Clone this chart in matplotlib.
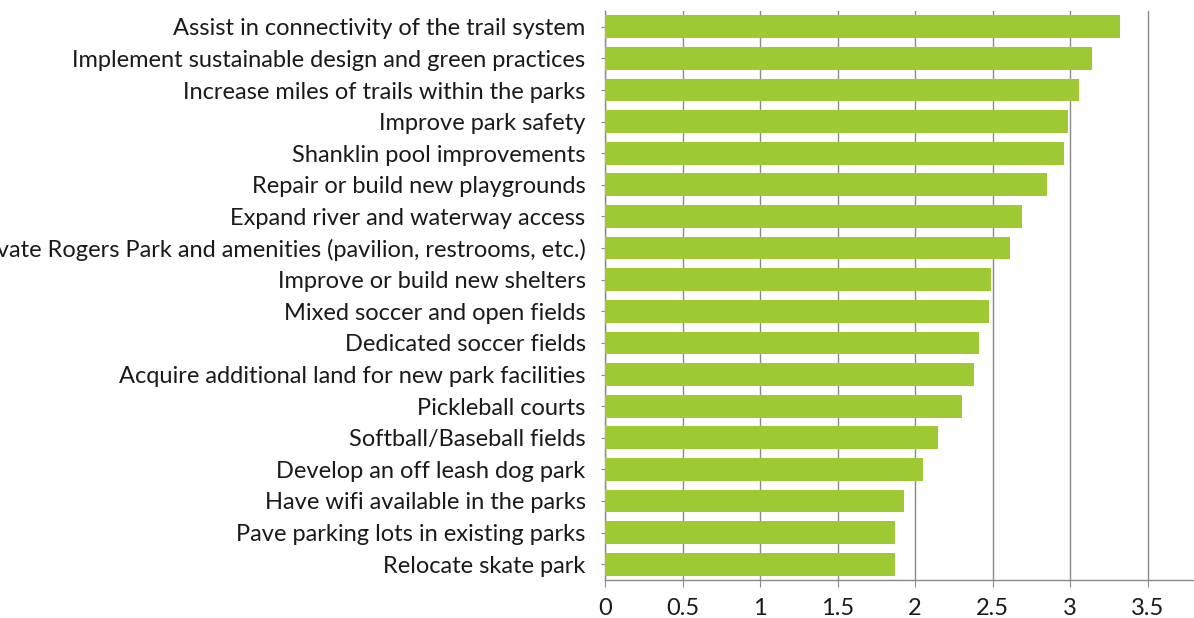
import matplotlib
matplotlib.use("Agg")
import matplotlib.pyplot as plt

# priorities, listed bottom to top as drawn on the y axis
labels = [
    "Relocate skate park",
    "Pave parking lots in existing parks",
    "Have wifi available in the parks",
    "Develop an off leash dog park",
    "Softball/Baseball fields",
    "Pickleball courts",
    "Acquire additional land for new park facilities",
    "Dedicated soccer fields",
    "Mixed soccer and open fields",
    "Improve or build new shelters",
    "Renovate Rogers Park and amenities (pavilion, restrooms, etc.)",
    "Expand river and waterway access",
    "Repair or build new playgrounds",
    "Shanklin pool improvements",
    "Improve park safety",
    "Increase miles of trails within the parks",
    "Implement sustainable design and green practices",
    "Assist in connectivity of the trail system",
]
scores = [1.87, 1.87, 1.93, 2.05, 2.15, 2.30, 2.38, 2.41, 2.48, 2.49,
          2.61, 2.69, 2.85, 2.96, 2.99, 3.06, 3.14, 3.32]
xticks = [0, 0.5, 1, 1.5, 2, 2.5, 3, 3.5]
xtick_labels = ["0", "0.5", "1", "1.5", "2", "2.5", "3", "3.5"]

plt.rcParams["font.family"] = ["Lato", "DejaVu Sans"]

fig = plt.figure(figsize=(11.94, 6.18), dpi=100)
ax = fig.add_axes([605 / 1194, 1 - 580 / 618, 1 - 605 / 1194, 569 / 618])

ax.barh(range(len(labels)), scores, height=0.72, color="#9FC932", zorder=3)

ax.set_xlim(0, 3.8)
ax.set_ylim(-0.5, len(labels) - 0.5)
ax.set_xticks(xticks)
ax.set_xticklabels(xtick_labels)
ax.set_yticks(range(len(labels)))
ax.set_yticklabels(labels)

ax.grid(axis="x", color="#8a8a8a", linewidth=1.0, zorder=0)
for side in ["top", "right"]:
    ax.spines[side].set_visible(False)
for side in ["left", "bottom"]:
    ax.spines[side].set_color("#8a8a8a")
    ax.spines[side].set_linewidth(1.0)

ax.tick_params(axis="y", length=3, color="#8a8a8a", pad=11, labelsize=17, labelcolor="#1a1a1a")
ax.tick_params(axis="x", length=5, color="#8a8a8a", pad=8, labelsize=17, labelcolor="#1a1a1a")

fig.savefig("out.png", dpi=100)
